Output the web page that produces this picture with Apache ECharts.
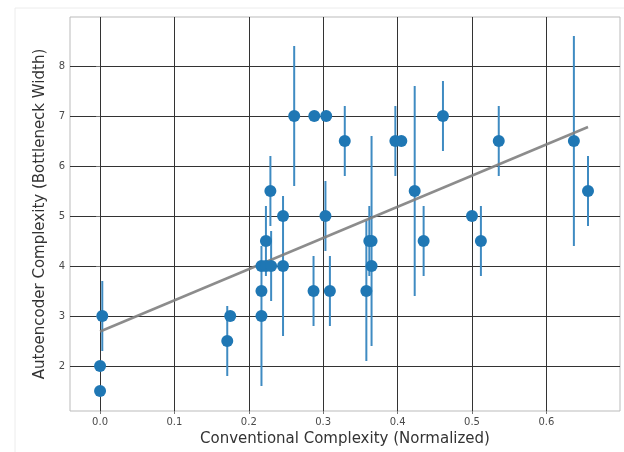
<!DOCTYPE html>
<html>
<head>
<meta charset="utf-8">
<script src="https://cdn.jsdelivr.net/npm/echarts@6/dist/echarts.min.js"></script>
<style>
  html, body { margin: 0; padding: 0; background: #fff; }
  #chart { width: 624px; height: 452px; }
</style>
</head>
<body>
<div id="chart"></div>
<script>
const xVals = [0.000, 0.000, 0.003, 0.171, 0.175, 0.217, 0.217, 0.217, 0.223, 0.223, 0.230, 0.229,
  0.246, 0.246, 0.261, 0.288, 0.287, 0.304, 0.303, 0.309, 0.329, 0.358, 0.362, 0.365, 0.365,
  0.397, 0.405, 0.423, 0.435, 0.461, 0.500, 0.512, 0.536, 0.637, 0.656];
const yVals = [1.5, 2.0, 3.0, 2.5, 3.0, 3.0, 3.5, 4.0, 4.5, 4.0, 4.0, 5.5,
  5.0, 4.0, 7.0, 7.0, 3.5, 7.0, 5.0, 3.5, 6.5, 3.5, 4.5, 4.5, 4.0,
  6.5, 6.5, 5.5, 4.5, 7.0, 5.0, 4.5, 6.5, 6.5, 5.5];
const errVals = [0, 0, 0.7, 0.7, 0, 1.4, 0, 0, 0.7, 0, 0.7, 0.7,
  0, 1.4, 1.4, 0, 0.7, 0, 0.7, 0.7, 0.7, 1.4, 0.7, 2.1, 0,
  0.7, 0, 2.1, 0.7, 0.7, 0, 0.7, 0.7, 2.1, 0.7];

const lineX = [0, 0.656];
const lineY = [2.69, 6.78];

const xTicks = [0, 0.1, 0.2, 0.3, 0.4, 0.5, 0.6];
const yTicks = [2, 3, 4, 5, 6, 7, 8];

const points = xVals.map((x, i) => [x, yVals[i], errVals[i]]);
const fitLine = lineX.map((x, i) => [x, lineY[i]]);

const chart = echarts.init(document.getElementById('chart'));

const tickLabel = { color: '#4a4a4a', fontSize: 10, fontFamily: 'DejaVu Sans' };
const titleText = { color: '#333', fontSize: 15, fontFamily: 'DejaVu Sans' };

chart.setOption({
  animation: false,
  backgroundColor: '#fff',
  graphic: [{
    type: 'rect',
    shape: { x: 15, y: 8, width: 640, height: 480 },
    style: { fill: 'none', stroke: '#ececec', lineWidth: 1 },
    silent: true
  }],
  grid: {
    left: 70, right: 4, top: 17, bottom: 41,
    show: true, borderColor: '#bbb', borderWidth: 1
  },
  xAxis: {
    type: 'value',
    min: -0.0404,
    max: 0.699,
    name: 'Conventional Complexity (Normalized)',
    nameLocation: 'middle',
    nameGap: 20,
    nameTextStyle: titleText,
    axisLine: { show: false },
    axisTick: { show: true, length: 3, lineStyle: { color: '#777' }, customValues: xTicks },
    axisLabel: Object.assign({ margin: 6, customValues: xTicks, formatter: v => v.toFixed(1) }, tickLabel),
    splitLine: { show: true, lineStyle: { color: '#333', width: 1 } }
  },
  yAxis: {
    type: 'value',
    min: 1.1,
    max: 8.98,
    name: 'Autoencoder Complexity (Bottleneck Width)',
    nameLocation: 'middle',
    nameGap: 16,
    nameTextStyle: titleText,
    axisLine: { show: false },
    axisTick: { show: true, length: 4, lineStyle: { color: '#777' }, customValues: yTicks },
    axisLabel: Object.assign({ margin: 5, customValues: yTicks }, tickLabel),
    splitLine: { show: true, lineStyle: { color: '#333', width: 1 } }
  },
  series: [
    {
      type: 'custom',
      z: 2,
      data: points,
      encode: { x: 0, y: 1 },
      renderItem: (params, api) => {
        const x = api.value(0), y = api.value(1), e = api.value(2);
        if (!e) return null;
        const top = api.coord([x, y + e]);
        const bot = api.coord([x, y - e]);
        return {
          type: 'line',
          shape: { x1: top[0], y1: top[1], x2: bot[0], y2: bot[1] },
          style: { stroke: '#3f8bc2', lineWidth: 2 }
        };
      }
    },
    {
      type: 'line',
      z: 3,
      data: fitLine,
      symbol: 'none',
      lineStyle: { color: '#7f7f7f', width: 2.5, opacity: 0.9 }
    },
    {
      type: 'scatter',
      z: 4,
      data: points,
      symbolSize: 12,
      itemStyle: { color: '#1f77b4', opacity: 1 }
    }
  ]
});
</script>
</body>
</html>
